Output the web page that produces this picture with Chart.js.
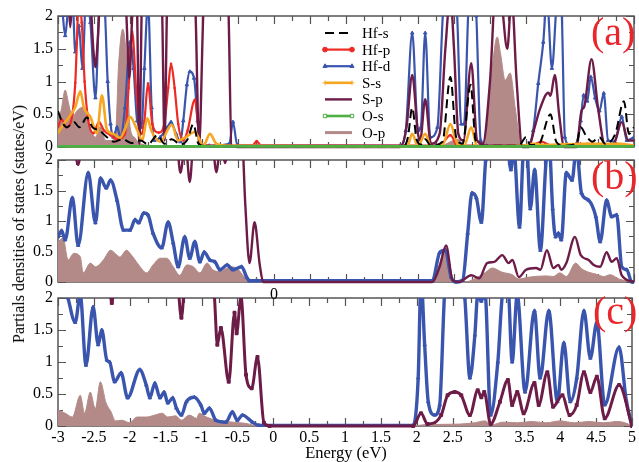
<!DOCTYPE html>
<html>
<head>
<meta charset="utf-8">
<script src="https://cdn.jsdelivr.net/npm/chart.js@4.4.0/dist/chart.umd.min.js"></script>
<style>
  body { margin: 0; background: #fff; }
  #wrap { position: relative; width: 639px; height: 462px; overflow: hidden; font-family: "Liberation Serif", "DejaVu Serif", serif; }
  canvas { position: absolute; left: 0; top: 0; }
  .txt { position: absolute; white-space: nowrap; color: #000; line-height: 1; }
  .tag { color: #e8262b; font-size: 40px; }
</style>
</head>
<body>
<div id="wrap">
  <canvas id="panelA" width="639" height="462"></canvas>
  <canvas id="panelB" width="639" height="462"></canvas>
  <canvas id="panelC" width="639" height="462"></canvas>
  <div class="txt" style="left:19px; top:224px; font-size:16px; transform:translate(-50%,-50%) rotate(-90deg);">Partials densities of states (states/eV)</div>
  <div class="txt" style="left:346px; top:445px; font-size:16.5px; transform:translateX(-50%);">Energy (eV)</div>
  <div class="txt" style="left:274px; top:286px; font-size:16px; transform:translateX(-50%);">0</div>
  <div class="txt tag" style="left:591px; top:12px;">(a)</div>
  <div class="txt tag" style="left:591px; top:156px;">(b)</div>
  <div class="txt tag" style="left:593px; top:291px;">(c)</div>
</div>
<script>
// Axis ticks (labelled)
const xTicks = [-3, -2.5, -2, -1.5, -1, -0.5, 0, 0.5, 1, 1.5, 2, 2.5, 3, 3.5, 4, 4.5, 5];
const yTicks = [0, 0.5, 1, 1.5, 2];

// ---- Panel (a) : [energy eV, PDOS states/eV] ----
const aHfs = [[-3.0,0.55],[-2.95,0.4],[-2.88,0.3],[-2.78,0.38],[-2.7,0.3],[-2.6,0.45],[-2.52,0.3],[-2.42,0.25],[-2.32,0.15],[-2.22,0.08],[-2.1,0.12],[-1.98,0.06],[-1.85,0.1],[-1.75,0.04],[-1.62,0.18],[-1.52,0.05],[-1.42,0.12],[-1.3,0.04],[-1.2,0.12],[-1.12,0.35],[-1.05,0.05],[-0.9,0.01],[1.8,0.01],[1.86,0.15],[1.92,0.6],[1.98,0.12],[2.04,0.04],[2.1,0.12],[2.18,0.02],[2.34,0.08],[2.45,1.07],[2.53,0.15],[2.62,0.05],[2.73,0.95],[2.8,0.1],[2.9,0.02],[3.4,0.02],[3.5,0.15],[3.56,0.03],[3.68,0.05],[3.84,0.5],[3.92,0.08],[4.02,0.02],[4.2,0.05],[4.26,0.3],[4.33,0.18],[4.42,0.08],[4.52,0.15],[4.6,0.05],[4.74,0.2],[4.86,0.7],[4.93,0.2],[5.0,0.3]];
const aHfp = [[-3.0,0.31],[-2.95,0.42],[-2.88,0.3],[-2.8,0.5],[-2.76,0.98],[-2.71,2.2],[-2.67,1.9],[-2.63,1.0],[-2.58,0.41],[-2.51,0.21],[-2.43,0.38],[-2.36,0.25],[-2.27,0.18],[-2.18,0.12],[-2.07,0.2],[-2.02,0.9],[-1.97,1.76],[-1.91,0.8],[-1.84,0.2],[-1.8,0.4],[-1.75,0.97],[-1.69,0.35],[-1.6,0.22],[-1.52,0.38],[-1.47,0.9],[-1.43,1.27],[-1.38,0.9],[-1.33,0.35],[-1.26,0.1],[-1.2,0.25],[-1.1,0.72],[-1.03,0.1],[-0.95,0.02],[-0.3,0.02],[-0.24,0.09],[-0.18,0.02],[2.3,0.02],[2.45,0.18],[2.55,0.02],[3.55,0.02],[3.72,0.08],[3.85,0.02],[4.25,0.02],[4.35,0.05],[4.5,0.02],[5.0,0.02]];
const aHfd = [[-3.0,2.3],[-2.95,2.2],[-2.9,1.7],[-2.86,2.1],[-2.8,2.3],[-2.76,1.45],[-2.71,1.85],[-2.66,1.2],[-2.61,2.3],[-2.55,1.9],[-2.48,0.75],[-2.42,2.2],[-2.36,2.2],[-2.31,1.0],[-2.27,0.35],[-2.23,0.15],[-2.18,0.3],[-2.13,0.15],[-2.07,0.6],[-2.0,1.6],[-1.95,1.2],[-1.9,0.4],[-1.84,0.3],[-1.8,1.2],[-1.75,2.2],[-1.7,0.6],[-1.66,0.1],[-1.58,0.15],[-1.48,0.3],[-1.43,0.38],[-1.36,0.2],[-1.3,0.08],[-1.26,0.4],[-1.21,0.95],[-1.17,1.15],[-1.11,1.05],[-1.06,0.4],[-1.02,0.05],[-0.9,0.02],[-0.62,0.05],[-0.57,0.38],[-0.51,0.03],[1.75,0.02],[1.83,0.25],[1.92,1.74],[2.0,0.25],[2.04,0.3],[2.1,1.74],[2.17,0.15],[2.27,0.3],[2.35,2.1],[2.45,2.6],[2.54,2.1],[2.6,0.35],[2.64,0.35],[2.7,2.1],[2.75,2.6],[2.81,2.0],[2.87,0.1],[2.95,0.02],[3.52,0.02],[3.6,0.25],[3.67,0.97],[3.74,1.6],[3.79,2.3],[3.86,1.2],[3.94,2.3],[3.99,2.2],[4.04,0.15],[4.12,0.02],[4.2,0.05],[4.26,0.4],[4.3,0.79],[4.35,0.7],[4.4,1.07],[4.46,0.75],[4.52,0.55],[4.58,0.82],[4.64,0.1],[4.73,0.08],[4.83,0.46],[4.9,0.1],[5.0,0.15]];
const aSs = [[-3.0,0.21],[-2.92,0.35],[-2.85,0.45],[-2.76,0.61],[-2.69,0.85],[-2.64,0.6],[-2.55,0.46],[-2.46,0.21],[-2.39,0.79],[-2.32,0.26],[-2.23,0.2],[-2.14,0.14],[-2.06,0.3],[-2.0,0.46],[-1.9,0.26],[-1.83,0.1],[-1.76,0.44],[-1.7,0.24],[-1.58,0.08],[-1.42,0.34],[-1.33,0.1],[-1.24,0.14],[-1.1,0.23],[-0.98,0.02],[-0.89,0.2],[-0.8,0.05],[-0.66,0.02],[1.85,0.01],[1.92,0.2],[2.0,0.01],[2.1,0.2],[2.18,0.01],[2.35,0.05],[2.45,0.35],[2.55,0.04],[2.64,0.02],[2.74,0.3],[2.82,0.01],[3.45,0.02],[3.6,0.05],[3.75,0.03],[4.3,0.05],[4.8,0.05],[5.0,0.02]];
const aSp = [[-3.0,2.6],[-2.9,2.5],[-2.85,2.2],[-2.83,1.83],[-2.8,2.3],[-2.7,2.6],[-2.56,2.4],[-2.51,1.5],[-2.48,1.22],[-2.45,1.6],[-2.4,2.5],[-2.2,2.6],[-2.06,2.2],[-2.01,1.05],[-1.96,2.2],[-1.91,2.4],[-1.87,0.05],[-1.83,2.4],[-1.7,2.6],[-1.56,2.3],[-1.52,0.1],[-1.48,2.3],[-1.3,2.6],[-1.1,2.3],[-1.04,0.02],[-0.97,2.3],[-0.8,2.6],[-0.64,2.3],[-0.59,0.02],[-0.5,0.0],[1.75,0.0],[1.84,0.3],[1.92,1.1],[2.0,0.2],[2.03,0.1],[2.1,0.73],[2.18,0.05],[2.3,0.2],[2.38,1.5],[2.45,2.3],[2.5,1.5],[2.56,0.2],[2.63,0.1],[2.74,1.28],[2.82,0.1],[2.9,0.05],[3.0,1.0],[3.08,2.4],[3.15,2.3],[3.24,1.5],[3.3,2.3],[3.37,1.0],[3.45,0.0],[3.54,0.0],[3.62,0.3],[3.7,0.6],[3.81,0.83],[3.84,0.78],[3.9,1.1],[3.96,0.5],[4.03,0.0],[4.2,0.0],[4.27,0.55],[4.31,0.62],[4.41,1.34],[4.5,0.6],[4.6,0.02],[4.72,0.05],[4.83,0.38],[4.92,0.1],[5.0,0.1]];
const aOs = [[-3,0.01],[-2,0.01],[-1,0.01],[0,0.01],[1,0.01],[2,0.01],[3,0.01],[4,0.01],[5,0.01]];
const aOp = [[-3.0,0.3],[-2.95,0.6],[-2.9,0.87],[-2.85,0.65],[-2.8,0.46],[-2.73,0.56],[-2.65,0.61],[-2.58,0.37],[-2.48,0.15],[-2.41,0.31],[-2.34,0.1],[-2.26,0.1],[-2.2,0.21],[-2.16,1.22],[-2.1,1.8],[-2.04,1.22],[-2.0,0.31],[-1.94,0.15],[-1.86,0.05],[-1.6,0.02],[-0.5,0.01],[2.3,0.01],[2.45,0.08],[2.55,0.12],[2.65,0.02],[2.9,0.02],[2.98,0.6],[3.05,1.4],[3.1,1.68],[3.15,1.4],[3.21,1.02],[3.28,1.13],[3.35,0.6],[3.42,0.1],[3.5,0.02],[3.7,0.05],[3.8,0.02],[5.0,0.01]];

// ---- Panel (b) ----
const bHfd = [[-3.0,0.74],[-2.95,0.84],[-2.9,0.69],[-2.8,1.38],[-2.72,0.6],[-2.58,1.79],[-2.48,0.97],[-2.41,1.7],[-2.33,1.54],[-2.27,1.67],[-2.18,1.34],[-2.09,0.85],[-2.0,0.85],[-1.93,1.02],[-1.88,0.97],[-1.81,1.13],[-1.75,1.1],[-1.68,0.8],[-1.56,0.56],[-1.47,0.98],[-1.4,0.64],[-1.33,0.25],[-1.24,0.74],[-1.17,0.39],[-1.1,0.66],[-1.03,0.33],[-0.97,0.49],[-0.89,0.36],[-0.82,0.33],[-0.75,0.2],[-0.65,0.28],[-0.57,0.2],[-0.45,0.25],[-0.38,0.08],[-0.34,0.02],[2.2,0.02],[2.3,0.48],[2.38,0.52],[2.46,0.08],[2.53,0.0],[2.62,0.03],[2.69,0.8],[2.75,1.46],[2.81,1.38],[2.88,0.98],[2.94,2.0],[3.0,2.5],[3.15,2.6],[3.25,2.2],[3.29,1.84],[3.33,2.2],[3.41,0.9],[3.47,2.2],[3.51,2.2],[3.56,1.2],[3.62,1.84],[3.7,0.52],[3.78,2.0],[3.82,2.3],[3.87,1.2],[3.91,0.74],[3.95,0.8],[3.99,0.69],[4.06,1.79],[4.14,1.67],[4.2,2.2],[4.27,1.46],[4.37,1.34],[4.47,1.07],[4.53,0.66],[4.62,1.34],[4.69,1.07],[4.76,1.1],[4.83,0.25],[4.9,0.2],[4.97,0.0],[5.0,0.0]];
const bSp = [[-3.0,2.6],[-2.8,2.4],[-2.72,1.92],[-2.65,2.4],[-2.0,2.6],[-1.36,2.4],[-1.3,1.79],[-1.23,2.3],[-1.17,1.64],[-1.11,2.4],[-0.86,2.3],[-0.8,1.8],[-0.74,2.3],[-0.68,1.95],[-0.6,2.4],[-0.45,2.5],[-0.4,1.3],[-0.34,0.31],[-0.27,0.98],[-0.2,0.3],[-0.15,0.0],[2.2,0.0],[2.3,0.25],[2.39,0.6],[2.48,0.03],[2.57,0.0],[2.74,0.11],[2.85,0.06],[2.96,0.31],[3.06,0.33],[3.17,0.44],[3.26,0.31],[3.31,0.36],[3.4,0.08],[3.5,0.2],[3.64,0.23],[3.7,0.2],[3.79,0.52],[3.88,0.23],[3.95,0.28],[3.99,0.2],[4.06,0.31],[4.18,0.74],[4.26,0.44],[4.37,0.36],[4.44,0.28],[4.53,0.25],[4.62,0.49],[4.69,0.33],[4.76,0.39],[4.83,0.11],[5.0,0.0]];
const bOp = [[-3.0,0.66],[-2.93,0.72],[-2.86,0.36],[-2.78,0.47],[-2.69,0.41],[-2.65,0.15],[-2.55,0.31],[-2.48,0.25],[-2.37,0.36],[-2.27,0.52],[-2.18,0.44],[-2.14,0.41],[-2.05,0.52],[-1.96,0.41],[-1.86,0.25],[-1.77,0.15],[-1.68,0.28],[-1.58,0.39],[-1.49,0.39],[-1.4,0.25],[-1.31,0.11],[-1.21,0.28],[-1.12,0.25],[-1.03,0.15],[-0.93,0.31],[-0.85,0.2],[-0.75,0.17],[-0.61,0.25],[-0.52,0.23],[-0.41,0.08],[-0.34,0.01],[-0.24,0.05],[-0.15,0.0],[2.2,0.0],[2.3,0.3],[2.38,0.57],[2.48,0.03],[2.65,0.0],[2.78,0.05],[2.94,0.16],[3.03,0.23],[3.17,0.16],[3.31,0.12],[3.4,0.05],[3.55,0.08],[3.78,0.1],[3.88,0.09],[3.97,0.15],[4.06,0.09],[4.19,0.31],[4.27,0.22],[4.37,0.16],[4.47,0.13],[4.58,0.09],[4.67,0.12],[4.79,0.05],[5.0,0.0]];

// ---- Panel (c) ----
const cHfd = [[-3.0,2.6],[-2.92,2.3],[-2.86,2.0],[-2.76,1.62],[-2.69,2.05],[-2.61,0.95],[-2.51,1.86],[-2.44,1.27],[-2.39,1.5],[-2.32,1.03],[-2.28,1.0],[-2.21,0.69],[-2.12,0.83],[-2.03,0.44],[-1.86,0.88],[-1.77,0.64],[-1.72,0.44],[-1.65,0.67],[-1.58,0.44],[-1.52,0.53],[-1.47,0.36],[-1.4,0.44],[-1.35,0.28],[-1.28,0.17],[-1.21,0.38],[-1.1,0.45],[-1.01,0.33],[-0.96,0.2],[-0.89,0.28],[-0.8,0.09],[-0.66,0.06],[-0.57,0.22],[-0.5,0.09],[-0.43,0.17],[-0.29,0.06],[-0.2,0.01],[1.95,0.01],[2.02,0.75],[2.06,2.3],[2.11,1.27],[2.16,0.38],[2.25,0.17],[2.32,0.33],[2.39,2.1],[2.5,2.6],[2.62,2.3],[2.67,2.0],[2.74,0.75],[2.81,1.42],[2.85,2.05],[2.9,1.95],[2.95,2.1],[3.03,0.17],[3.13,1.0],[3.2,2.1],[3.27,2.2],[3.33,1.0],[3.4,2.05],[3.51,0.53],[3.64,1.8],[3.72,0.75],[3.84,1.8],[3.96,0.38],[4.05,1.3],[4.14,0.38],[4.23,0.75],[4.33,1.8],[4.42,1.06],[4.51,1.62],[4.62,0.33],[4.82,1.23],[4.92,0.4],[5.0,0.0]];
const cSp = [[-3.0,2.6],[-2.3,2.4],[-2.25,1.92],[-2.2,2.4],[-1.35,2.4],[-1.28,1.69],[-1.22,2.4],[-0.9,2.6],[-0.82,2.02],[-0.78,1.27],[-0.73,1.53],[-0.62,0.69],[-0.54,1.77],[-0.51,1.45],[-0.45,2.02],[-0.38,0.8],[-0.3,0.59],[-0.22,1.08],[-0.13,0.05],[-0.05,0.0],[1.95,0.0],[2.06,0.2],[2.15,0.03],[2.34,0.17],[2.43,0.48],[2.53,0.53],[2.62,0.48],[2.74,0.17],[2.85,0.56],[2.9,0.45],[2.94,0.53],[3.03,0.03],[3.16,0.38],[3.27,0.72],[3.33,0.33],[3.4,0.53],[3.49,0.2],[3.64,0.67],[3.7,0.33],[3.82,0.84],[3.9,0.3],[4.03,0.48],[4.13,0.17],[4.23,0.33],[4.33,0.84],[4.42,0.53],[4.51,0.77],[4.62,0.12],[4.82,0.64],[5.0,0.0]];
const cOp = [[-3.0,0.25],[-2.9,0.2],[-2.8,0.14],[-2.69,0.48],[-2.63,0.2],[-2.55,0.53],[-2.48,0.27],[-2.41,0.69],[-2.33,0.36],[-2.26,0.22],[-2.2,0.08],[-2.11,0.09],[-2.0,0.05],[-1.9,0.14],[-1.77,0.14],[-1.65,0.17],[-1.55,0.2],[-1.47,0.14],[-1.36,0.16],[-1.28,0.09],[-1.17,0.17],[-1.07,0.12],[-1.03,0.2],[-0.93,0.14],[-0.8,0.09],[-0.56,0.06],[-0.38,0.04],[-0.2,0.0],[1.95,0.0],[2.1,0.02],[2.6,0.03],[2.8,0.05],[2.95,0.08],[3.05,0.02],[3.2,0.06],[3.4,0.05],[3.6,0.07],[3.8,0.05],[4.0,0.08],[4.2,0.05],[4.4,0.07],[4.6,0.05],[4.8,0.07],[4.95,0.03],[5.0,0.0]];

// Colours
const C_HFS = '#000000';
const C_HFP = '#ee2a24';
const C_HFD = '#3a55ad';
const C_SS = '#f6a623';
const C_SP = '#6d1c48';
const C_OS = '#4cb043';
const C_OP = '#b38a87';

// Build a line dataset from [x, y] pairs
function series(label, pts, style) {
  return Object.assign({
    label: label,
    data: pts.map(p => ({ x: p[0], y: p[1] })),
    cubicInterpolationMode: 'monotone',
    pointRadius: 0,
    borderWidth: 2,
    fill: false,
    clip: { left: 0, top: 0, right: 0, bottom: 3 }
  }, style);
}

// Frame box + inward ticks on all four sides
const frameTicks = {
  id: 'frameTicks',
  beforeDatasetsDraw(chart) {
    const { ctx, chartArea: a, scales } = chart;
    const x = scales.x, y = scales.y;
    ctx.save();
    ctx.strokeStyle = '#555';
    ctx.lineWidth = 1.2;
    ctx.beginPath();
    for (let i = 0; i <= 32; i++) {
      const v = -3 + i * 0.25;
      const px = Math.round(x.getPixelForValue(v)) + 0.5;
      const len = i % 2 === 0 ? 8 : 5;
      ctx.moveTo(px, a.bottom); ctx.lineTo(px, a.bottom - len);
      ctx.moveTo(px, a.top); ctx.lineTo(px, a.top + len);
    }
    for (let i = 0; i <= 8; i++) {
      const py = Math.round(y.getPixelForValue(i * 0.25)) + 0.5;
      const len = i % 2 === 0 ? 8 : 5;
      ctx.moveTo(a.left, py); ctx.lineTo(a.left + len, py);
      ctx.moveTo(a.right, py); ctx.lineTo(a.right - len, py);
    }
    ctx.stroke();
    ctx.lineWidth = 1.5;
    ctx.strokeRect(a.left, a.top, a.right - a.left, a.bottom - a.top);
    ctx.restore();
  }
};

// Legend drawn inside panel (a)
const legendBox = {
  id: 'legendBox',
  afterDraw(chart) {
    const ctx = chart.ctx;
    ctx.save();
    chart.data.datasets.forEach((ds, i) => {
      const yy = 33 + i * 16.6;
      ctx.strokeStyle = ds.borderColor;
      ctx.lineWidth = ds.fill ? 3 : ds.borderWidth;
      ctx.setLineDash(ds.borderDash || []);
      ctx.beginPath();
      ctx.moveTo(325, yy);
      ctx.lineTo(352, yy);
      ctx.stroke();
      ctx.setLineDash([]);
      if (ds.legendMarker) {
        ctx.lineWidth = 1;
        ctx.fillStyle = ds.legendMarker === 'rect' ? '#fff' : ds.borderColor;
        [325, 352].forEach(px => {
          Chart.helpers.drawPoint(ctx, { pointStyle: ds.legendMarker, radius: 2.4, rotation: 0, borderWidth: 1 }, px, yy);
        });
      }
      ctx.fillStyle = '#000';
      ctx.font = '15px "Liberation Serif", serif';
      ctx.textBaseline = 'middle';
      ctx.fillText(ds.label, 362, yy + 1);
    });
    ctx.restore();
  }
};

// Common options for one panel; pad = [top, bottom]
function panelOptions(pad, showX) {
  return {
    responsive: false,
    animation: false,
    devicePixelRatio: 1,
    layout: { padding: { left: 0, right: 4, top: pad[0], bottom: pad[1] } },
    plugins: { legend: { display: false }, tooltip: { enabled: false } },
    scales: {
      x: {
        type: 'linear',
        min: -3,
        max: 5,
        display: showX,
        grid: { display: false, drawTicks: false },
        border: { display: false },
        afterBuildTicks: s => { s.ticks = xTicks.map(v => ({ value: v })); },
        afterFit: s => { s.height = showX ? 36 : 0; },
        ticks: {
          padding: 2,
          maxRotation: 0,
          autoSkip: false,
          color: '#000',
          font: { family: '"Liberation Serif", serif', size: 16 },
          callback: v => String(v)
        }
      },
      y: {
        min: 0,
        max: 2,
        grid: { display: false, drawTicks: false },
        border: { display: false },
        afterBuildTicks: s => { s.ticks = yTicks.map(v => ({ value: v })); },
        afterFit: s => { s.width = 58; },
        ticks: {
          padding: 5,
          color: '#000',
          font: { family: '"Liberation Serif", serif', size: 16 },
          callback: v => String(v)
        }
      }
    }
  };
}

function hfdStyle(width) {
  return { borderColor: C_HFD, borderWidth: width, pointStyle: 'triangle', pointRadius: 2, pointBorderWidth: 1, pointBackgroundColor: C_HFD, pointBorderColor: C_HFD, legendMarker: 'triangle', order: 4 };
}
function opStyle() {
  return { borderColor: C_OP, backgroundColor: C_OP, fill: 'origin', borderWidth: 1, order: 10 };
}

// Panel (a)
new Chart(document.getElementById('panelA'), {
  type: 'line',
  data: {
    datasets: [
      series('Hf-s', aHfs, { borderColor: C_HFS, borderDash: [9, 5], borderWidth: 2, order: 1 }),
      series('Hf-p', aHfp, { borderColor: C_HFP, borderWidth: 2.2, pointStyle: 'circle', pointRadius: 1.3, pointBorderWidth: 0, pointBackgroundColor: C_HFP, legendMarker: 'circle', order: 3 }),
      series('Hf-d', aHfd, hfdStyle(2.2)),
      series('S-s', aSs, { borderColor: C_SS, borderWidth: 2.6, legendMarker: 'cross', order: 2 }),
      series('S-p', aSp, { borderColor: C_SP, borderWidth: 2.4, order: 2 }),
      series('O-s', aOs, { borderColor: C_OS, borderWidth: 2.6, legendMarker: 'rect', order: 0 }),
      series('O-p', aOp, opStyle())
    ]
  },
  options: panelOptions([16, 315], false),
  plugins: [frameTicks, legendBox]
});

// Panel (b)
new Chart(document.getElementById('panelB'), {
  type: 'line',
  data: {
    datasets: [
      series('Hf-d', bHfd, hfdStyle(3.4)),
      series('S-p', bSp, { borderColor: C_SP, borderWidth: 2.4, order: 2 }),
      series('O-p', bOp, opStyle())
    ]
  },
  options: panelOptions([160, 180], false),
  plugins: [frameTicks]
});

// Panel (c)
new Chart(document.getElementById('panelC'), {
  type: 'line',
  data: {
    datasets: [
      series('Hf-d', cHfd, hfdStyle(3.4)),
      series('S-p', cSp, { borderColor: C_SP, borderWidth: 3, pointStyle: 'cross', pointRadius: 2, pointBorderColor: C_SP, order: 2 }),
      series('O-p', cOp, opStyle())
    ]
  },
  options: panelOptions([298, 0], true),
  plugins: [frameTicks]
});
</script>
</body>
</html>
